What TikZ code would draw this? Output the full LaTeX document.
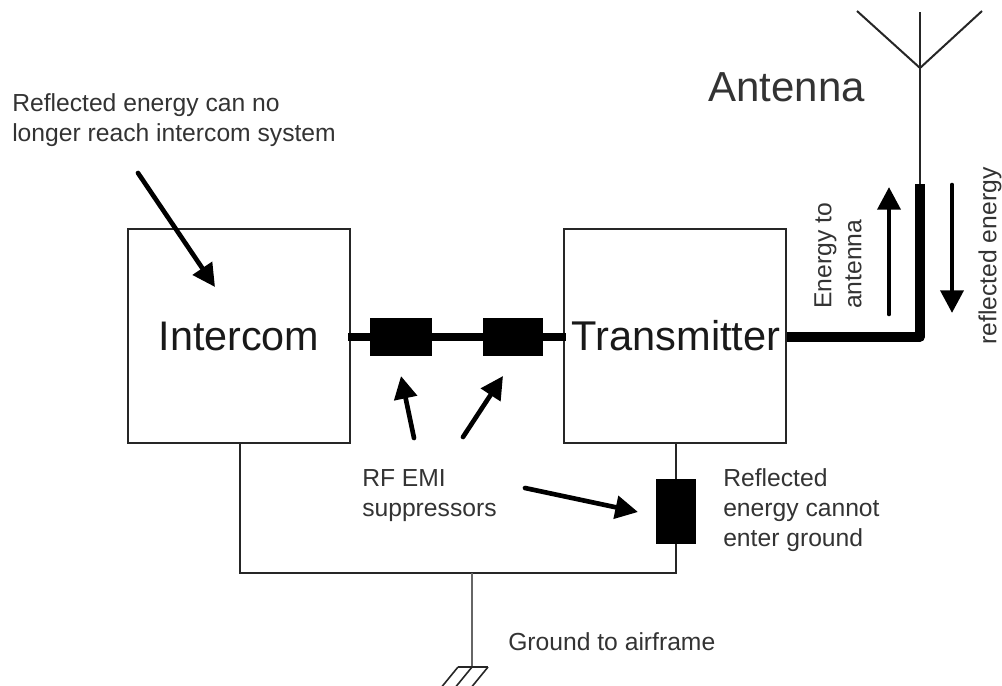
\documentclass[tikz,border=0pt]{standalone}
\usepackage{fontspec}
\setmainfont{Liberation Sans}
\usetikzlibrary{arrows.meta}
\tikzset{
 box/.style={draw=black!85,line width=1.5pt,inner sep=0pt,minimum width=166.5pt,minimum height=160.5pt,text=black!90},
 supp/.style={fill=black,draw=none,inner sep=0pt},
 thin wire/.style={draw=black!85,line width=1.5pt},
 gray wire/.style={draw=black!60,line width=1.5pt},
 heavy/.style={draw=black,line width=5.5pt},
 heavier/.style={draw=black,line width=7pt,line join=round},
 callout/.style={draw=black,line width=3.5pt,line cap=round,-{Triangle[length=17pt,width=17pt]}},
 lab/.style={align=left,anchor=west,inner sep=0pt,text=black!80,font=\fontsize{18.5}{22.5}\selectfont},
}
\begin{document}
\begin{tikzpicture}[x=0.75pt,y=-0.75pt]
\useasboundingbox (0,0) rectangle (1002,685);
\node[box,font=\fontsize{31}{32}\selectfont] (ic) at (239,336) {Intercom};
\node[box,font=\fontsize{31.2}{32}\selectfont] (tx) at (675,336) {\hspace*{1.5pt}Transmitter};
\node[supp,minimum width=46.5pt,minimum height=28.5pt] (s1) at (401,337) {};
\node[supp,minimum width=45pt,minimum height=28.5pt] (s2) at (513,337) {};
\node[supp,minimum width=30pt,minimum height=48.75pt] (s3) at (676,511.5) {};
\coordinate (icb) at (240,443);
\coordinate (txb) at (676,443);
\coordinate (g1) at (240,573);
\coordinate (g2) at (676,573);
\coordinate (g3) at (472,573);
\coordinate (g4) at (472,667);
\coordinate (corner) at (920,337);
\coordinate (feed) at (920,184);
\coordinate (fork) at (920,68);
\coordinate (atop) at (920,12);
\coordinate (al) at (857,11);
\coordinate (ar) at (982,11);
\coordinate (wl) at (348,337);
\coordinate (wr) at (566,337);
% wires
\draw[heavy] (wl) -- (s1.west);
\draw[heavy] (s1.east) -- (s2.west);
\draw[heavy] (s2.east) -- (wr);
\draw[heavier] (tx.east |- corner) -- (corner) -- (feed);
\draw[thin wire] (feed) -- (atop);
\draw[thin wire] (al) -- (fork) -- (ar);
\draw[thin wire] (icb) -- (g1) -- (g2) -- (s3.south);
\draw[thin wire] (txb) -- (s3.north);
\draw[gray wire] (g3) -- (g4);
% ground hatch
\coordinate (h0) at (458,667);
\coordinate (h1) at (488,667);
\coordinate (h2) at (472,667);
\begin{scope}
\clip (0,0) rectangle (1002,685);
\draw[thin wire,line width=1.2pt] (h0) -- (h1);
\draw[thin wire,line width=1.2pt] (h0) -- ++(-18,22);
\draw[thin wire,line width=1.2pt] (h2) -- ++(-18,22);
\draw[thin wire,line width=1.2pt] (h1) -- ++(-18,22);
\end{scope}
% callout arrows
\coordinate (a1s) at (138,173); \coordinate (a1e) at (215,287);
\coordinate (a2s) at (414,438); \coordinate (a2e) at (401,376);
\coordinate (a3s) at (463,437); \coordinate (a3e) at (503,376);
\coordinate (a4s) at (525,488); \coordinate (a4e) at (638,512);
\coordinate (a5s) at (889,314); \coordinate (a5e) at (889,187);
\coordinate (a6s) at (952,185); \coordinate (a6e) at (952,313);
\draw[callout] (a1s) -- (a1e);
\draw[callout] (a2s) -- (a2e);
\draw[callout] (a3s) -- (a3e);
\draw[callout] (a4s) -- (a4e);
\draw[callout] (a5s) -- (a5e);
\draw[callout] (a6s) -- (a6e);
% labels
\node[lab] (t1) at (12,120.5) {Reflected energy can no\\longer reach intercom system};
\node[lab,font=\fontsize{31.5}{34}\selectfont] (t2) at (708,87) {Antenna};
\node[lab] (t3) at (362,496) {RF EMI\\suppressors};
\node[lab] (t4) at (723,510) {Reflected\\energy cannot\\enter ground};
\node[lab] (t5) at (508,642) {Ground to airframe};
\node[lab,rotate=90,anchor=center,align=left] (t6) at (838,256) {Energy to\\antenna};
\node[lab,rotate=90,anchor=center] (t7) at (990,256) {reflected energy};
\end{tikzpicture}
\end{document}
